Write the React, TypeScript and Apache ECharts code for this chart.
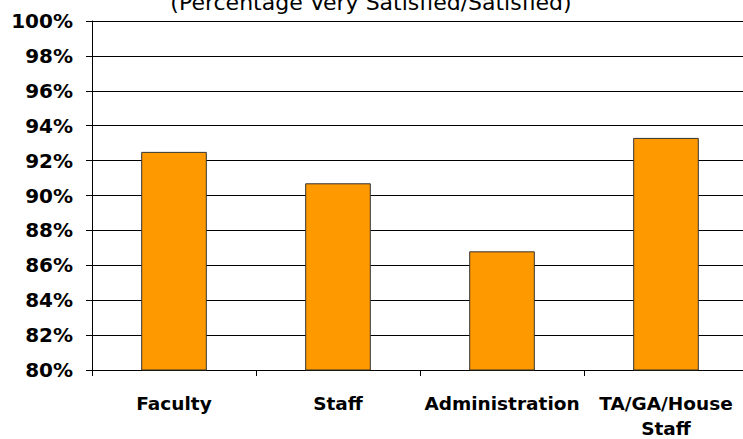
import React, { useEffect, useRef } from "react";
import * as echarts from "echarts";

const categories = ["Faculty", "Staff", "Administration", "TA/GA/House\nStaff"];
const satisfied = [0.925, 0.907, 0.868, 0.933];
const subtitle = "(Percentage Very Satisfied/Satisfied)";

const FONT = "'DejaVu Sans', Verdana, sans-serif";

export default function App() {
  const ref = useRef<HTMLDivElement>(null);

  useEffect(() => {
    if (!ref.current) return;
    const chart = echarts.init(ref.current, null, { renderer: "svg" });
    chart.setOption({
      animation: false,
      backgroundColor: "#ffffff",
      textStyle: { fontFamily: FONT },
      graphic: [
        {
          type: "text",
          x: 371,
          y: 13,
          style: {
            text: subtitle,
            font: `22px ${FONT}`,
            fill: "#000",
            align: "center",
            verticalAlign: "bottom",
          },
        },
      ],
      grid: {
        left: 92,
        right: -5,
        top: 21,
        bottom: 69,
        containLabel: false,
        outerBoundsMode: "none",
      },
      xAxis: {
        type: "category",
        data: categories,
        axisLine: { show: true, lineStyle: { color: "#000", width: 1 } },
        axisTick: { show: true, length: 6, lineStyle: { color: "#000" } },
        axisLabel: {
          interval: 0,
          margin: 21,
          color: "#000",
          fontWeight: "bold",
          fontSize: 18.5,
          lineHeight: 25,
          fontFamily: FONT,
        },
      },
      yAxis: {
        type: "value",
        min: 0.8,
        max: 1.0,
        interval: 0.02,
        axisLine: { show: true, lineStyle: { color: "#000", width: 1 } },
        axisTick: { show: true, length: 6, lineStyle: { color: "#000" } },
        splitLine: { show: true, lineStyle: { color: "#000", width: 1 } },
        axisLabel: {
          margin: 19,
          color: "#000",
          fontWeight: "bold",
          fontSize: 20,
          fontFamily: FONT,
          formatter: (v: number) => Math.round(v * 100) + "%",
        },
      },
      series: [
        {
          type: "bar",
          data: satisfied,
          barCategoryGap: "60%",
          itemStyle: { color: "#FF9900", borderColor: "#333", borderWidth: 1 },
        },
      ],
    });
    return () => chart.dispose();
  }, []);

  return (
    <div
      ref={ref}
      style={{ position: "fixed", left: 0, top: 0, width: 743, height: 439 }}
    />
  );
}
